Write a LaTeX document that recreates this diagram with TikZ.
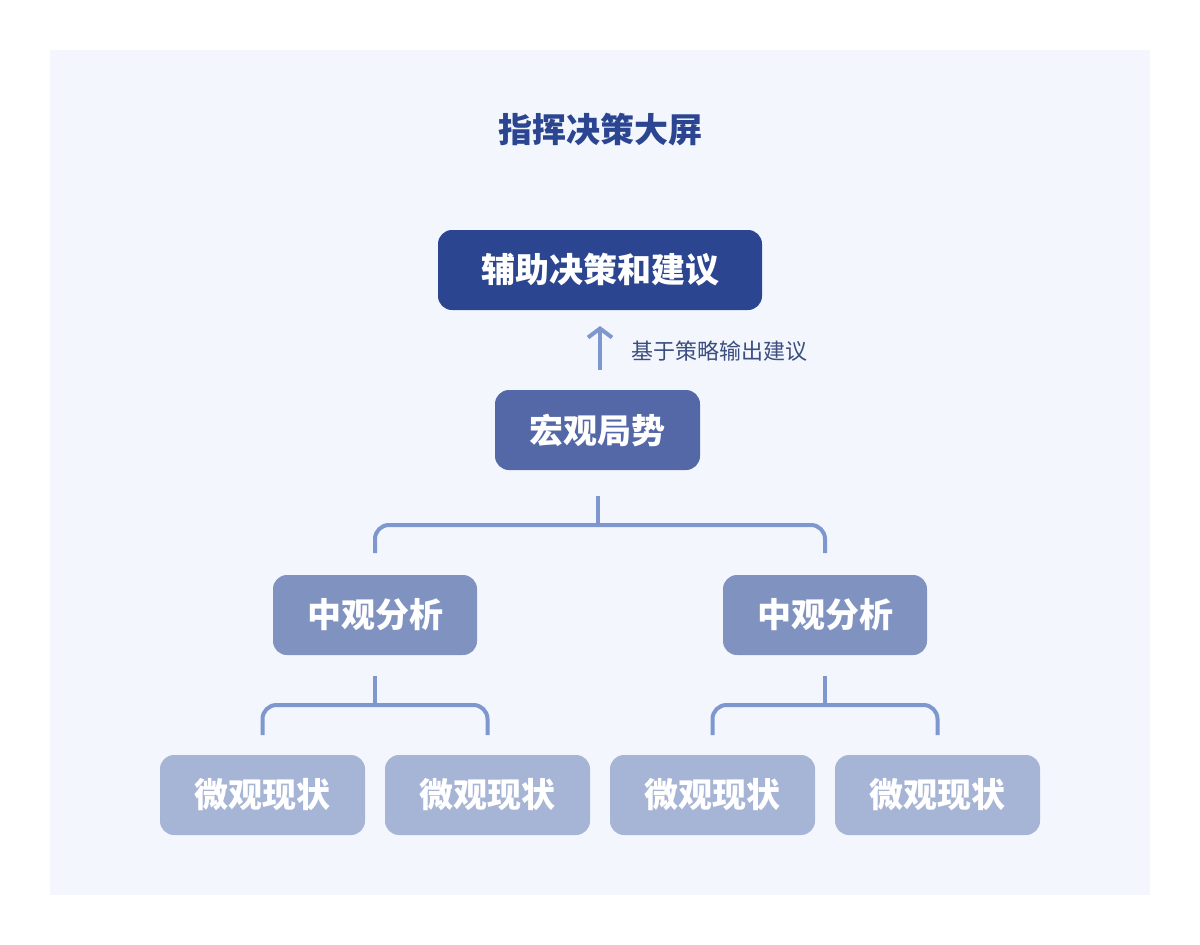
\documentclass[tikz,border=0pt]{standalone}
\usepackage{fontspec}
\setmainfont{Noto Sans CJK SC}
\usetikzlibrary{arrows.meta}
\definecolor{bgp}{HTML}{F3F7FD}
\definecolor{navy}{HTML}{2B4590}
\definecolor{lvl2}{HTML}{5468A8}
\definecolor{lvl3}{HTML}{7F92C0}
\definecolor{lvl4}{HTML}{A6B4D6}
\definecolor{line}{HTML}{7F97CF}
\definecolor{lab}{HTML}{3C4E80}
\tikzset{
 box/.style={rounded corners=14pt,text=white,font=\bfseries\fontsize{34}{40}\selectfont,minimum height=80pt,inner sep=0pt},
 conn/.style={draw=line,line width=4pt,rounded corners=14pt}
}
\begin{document}
\begin{tikzpicture}[x=1pt,y=-1pt]
\useasboundingbox (0,0) rectangle (1200,945);
\fill[white] (0,0) rectangle (1200,945);
\fill[bgp] (50,50) rectangle (1150,895);
\node[text=navy,font=\bfseries\fontsize{34}{40}\selectfont] (title) at (600,130) {指挥决策大屏};
\node[box,fill=navy,minimum width=324pt] (top) at (600,270) {辅助决策和建议};
\node[box,fill=lvl2,minimum width=205pt] (macro) at (597.5,430) {宏观局势};
\node[box,fill=lvl3,minimum width=204pt] (m1) at (375,615) {中观分析};
\node[box,fill=lvl3,minimum width=204pt] (m2) at (825,615) {中观分析};
\foreach \n/\x in {a/262.5,b/487.5,c/712.5,d/937.5}
  \node[box,fill=lvl4,minimum width=205pt] (\n) at (\x,795) {微观现状};
\coordinate (as) at (600,370);
\coordinate (ae) at (600,326);
\draw[line,line width=4pt,-{Straight Barb[length=9pt,width=24pt,line width=4pt]}] (as) -- (ae);
\node[anchor=west,text=lab,font=\fontsize{22}{26}\selectfont] (lbl) at (628,351) {基于策略输出建议};
\draw[conn] (598,496) -- (598,525);
\draw[conn] (375,553) -- (375,525) -- (825,525) -- (825,553);
\draw[conn] (375,676) -- (375,705);
\draw[conn] (262.5,735) -- (262.5,705) -- (487.5,705) -- (487.5,735);
\draw[conn] (825,676) -- (825,705);
\draw[conn] (712.5,735) -- (712.5,705) -- (937.5,705) -- (937.5,735);
\end{tikzpicture}
\end{document}
